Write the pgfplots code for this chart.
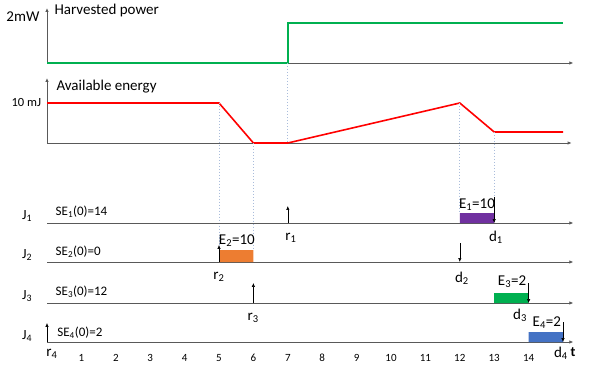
\documentclass[border=0pt]{standalone}
\usepackage{fontspec}
\setmainfont{Carlito}
\usepackage{pgfplots}
\pgfplotsset{compat=1.18}
\usetikzlibrary{arrows.meta}
\definecolor{pgreen}{HTML}{00B050}
\definecolor{ered}{HTML}{FF0000}
\definecolor{bpurple}{HTML}{7030A0}
\definecolor{borange}{HTML}{ED7D31}
\definecolor{bgreen}{HTML}{00B050}
\definecolor{bblue}{HTML}{4472C4}
\definecolor{axgray}{HTML}{595959}
\definecolor{dashc}{HTML}{A9BCDB}
\begin{document}
\begin{tikzpicture}
\useasboundingbox (0,0) rectangle (590bp,369bp);
\pgfplotsset{base/.style={scale only axis, width=590bp, height=369bp, at={(0,0)}, anchor=south west,
  xmin=-1.3663, xmax=15.785, hide axis, clip=false},
  axarrow/.style={axgray, line width=0.8pt, -{Latex[length=4pt,width=3.5pt]}},
  jarrow/.style={black, line width=0.6pt, -{Latex[length=4pt,width=3.5pt]}},
  dsh/.style={dashc, line width=0.7pt, dash pattern=on 1.5pt off 1.5pt}}
% Harvested power panel
\begin{axis}[base, ymin=-15.3, ymax=3.15]
\addplot[axarrow] coordinates {(0,0) (15.3,0)};
\addplot[axarrow] coordinates {(0,0) (0,2.75)};
\addplot[pgreen, line width=1.6pt] coordinates {(0,0) (7,0) (7,2) (15,2)};
\end{axis}
% Available energy panel
\begin{axis}[base, ymin=-56.5, ymax=35.75]
\addplot[axarrow] coordinates {(0,0) (15.25,0)};
\addplot[axarrow] coordinates {(0,0) (0,16.25)};
\addplot[ered, line width=1.6pt] coordinates {(0,10) (5,10) (6,0) (7,0) (12,10) (13,2.75) (15,2.75)};
\end{axis}
% Jobs panel (y in picture rows, downwards)
\begin{axis}[base, y dir=reverse, ymin=0, ymax=369]
% dashed guide lines
\addplot[dsh] coordinates {(7,63) (7,143)};
\addplot[dsh] coordinates {(5,103) (5,250)};
\addplot[dsh] coordinates {(6,143) (6,250)};
\addplot[dsh] coordinates {(12,103) (12,213)};
\addplot[dsh] coordinates {(13,132) (13,197)};
% job time axes
\addplot[axarrow] coordinates {(0,223) (15.3,223)};
\addplot[axarrow] coordinates {(0,262) (15.3,262)};
\addplot[axarrow] coordinates {(0,303) (15.3,303)};
\addplot[axarrow] coordinates {(0,342) (15.3,342)};
% execution bars
\addplot[fill=bpurple, draw=none] coordinates {(12,213) (13,213) (13,223) (12,223) (12,213)};
\addplot[fill=borange, draw=none] coordinates {(5,250) (6,250) (6,262) (5,262) (5,250)};
\addplot[fill=bgreen, draw=none] coordinates {(13,293) (14,293) (14,303) (13,303) (13,293)};
\addplot[fill=bblue, draw=none] coordinates {(14,332) (15,332) (15,342) (14,342) (14,332)};
% release arrows (up)
\addplot[jarrow] coordinates {(7,223) (7,206)};
\addplot[jarrow] coordinates {(5,262) (5,245)};
\addplot[jarrow] coordinates {(6,303) (6,283)};
\addplot[jarrow] coordinates {(0,342) (0,323)};
% deadline arrows (down)
\addplot[jarrow] coordinates {(13,197) (13,223)};
\addplot[jarrow] coordinates {(12,243) (12,262)};
\addplot[jarrow] coordinates {(14,283) (14,303)};
\addplot[jarrow] coordinates {(15,322) (15,342)};
% panel texts
\node[anchor=west, font=\fontsize{15bp}{17bp}\selectfont] at (axis cs:0.116,11) {Harvested power};
\node[anchor=east, font=\fontsize{15bp}{17bp}\selectfont] at (axis cs:-0.12,17) {2mW};
\node[anchor=west, font=\fontsize{15bp}{17bp}\selectfont] at (axis cs:0.174,87) {Available energy};
\node[anchor=east, font=\fontsize{12.5bp}{14bp}\selectfont] at (axis cs:-0.07,102) {10 mJ};
% job labels
\node[font=\fontsize{14bp}{16bp}\selectfont] at (axis cs:-0.58,216) {J\textsubscript{1}};
\node[font=\fontsize{14bp}{16bp}\selectfont] at (axis cs:-0.58,255) {J\textsubscript{2}};
\node[font=\fontsize{14bp}{16bp}\selectfont] at (axis cs:-0.58,296) {J\textsubscript{3}};
\node[font=\fontsize{14bp}{16bp}\selectfont] at (axis cs:-0.58,336) {J\textsubscript{4}};
\node[anchor=west, font=\fontsize{13bp}{15bp}\selectfont] at (axis cs:0.15,212) {SE\textsubscript{1}(0)=14};
\node[anchor=west, font=\fontsize{13bp}{15bp}\selectfont] at (axis cs:0.15,252) {SE\textsubscript{2}(0)=0};
\node[anchor=west, font=\fontsize{13bp}{15bp}\selectfont] at (axis cs:0.15,292) {SE\textsubscript{3}(0)=12};
\node[anchor=west, font=\fontsize{13bp}{15bp}\selectfont] at (axis cs:0.2,333) {SE\textsubscript{4}(0)=2};
% energy demand labels
\node[font=\fontsize{15bp}{17bp}\selectfont] at (axis cs:12.5,205) {E\textsubscript{1}=10};
\node[font=\fontsize{15bp}{17bp}\selectfont] at (axis cs:5.52,241) {E\textsubscript{2}=10};
\node[font=\fontsize{15bp}{17bp}\selectfont] at (axis cs:13.52,282) {E\textsubscript{3}=2};
\node[font=\fontsize{15bp}{17bp}\selectfont] at (axis cs:14.53,323) {E\textsubscript{4}=2};
% release / deadline labels
\node[font=\fontsize{15bp}{17bp}\selectfont] at (axis cs:7.09,238) {r\textsubscript{1}};
\node[font=\fontsize{15bp}{17bp}\selectfont] at (axis cs:5.0,277) {r\textsubscript{2}};
\node[font=\fontsize{15bp}{17bp}\selectfont] at (axis cs:5.99,318) {r\textsubscript{3}};
\node[font=\fontsize{15bp}{17bp}\selectfont] at (axis cs:0.14,354) {r\textsubscript{4}};
\node[font=\fontsize{15bp}{17bp}\selectfont] at (axis cs:13.05,237) {d\textsubscript{1}};
\node[font=\fontsize{15bp}{17bp}\selectfont] at (axis cs:12.06,278) {d\textsubscript{2}};
\node[font=\fontsize{15bp}{17bp}\selectfont] at (axis cs:13.75,315) {d\textsubscript{3}};
\node[font=\fontsize{15bp}{17bp}\selectfont] at (axis cs:14.94,353) {d\textsubscript{4}};
\node[font=\bfseries\fontsize{14bp}{16bp}\selectfont] at (axis cs:15.29,352) {t};
% time tick labels
\pgfplotsinvokeforeach{1,...,14}{
  \node[font=\fontsize{11bp}{13bp}\selectfont] at (axis cs:#1,358) {#1};
}
\end{axis}
\end{tikzpicture}
\end{document}
